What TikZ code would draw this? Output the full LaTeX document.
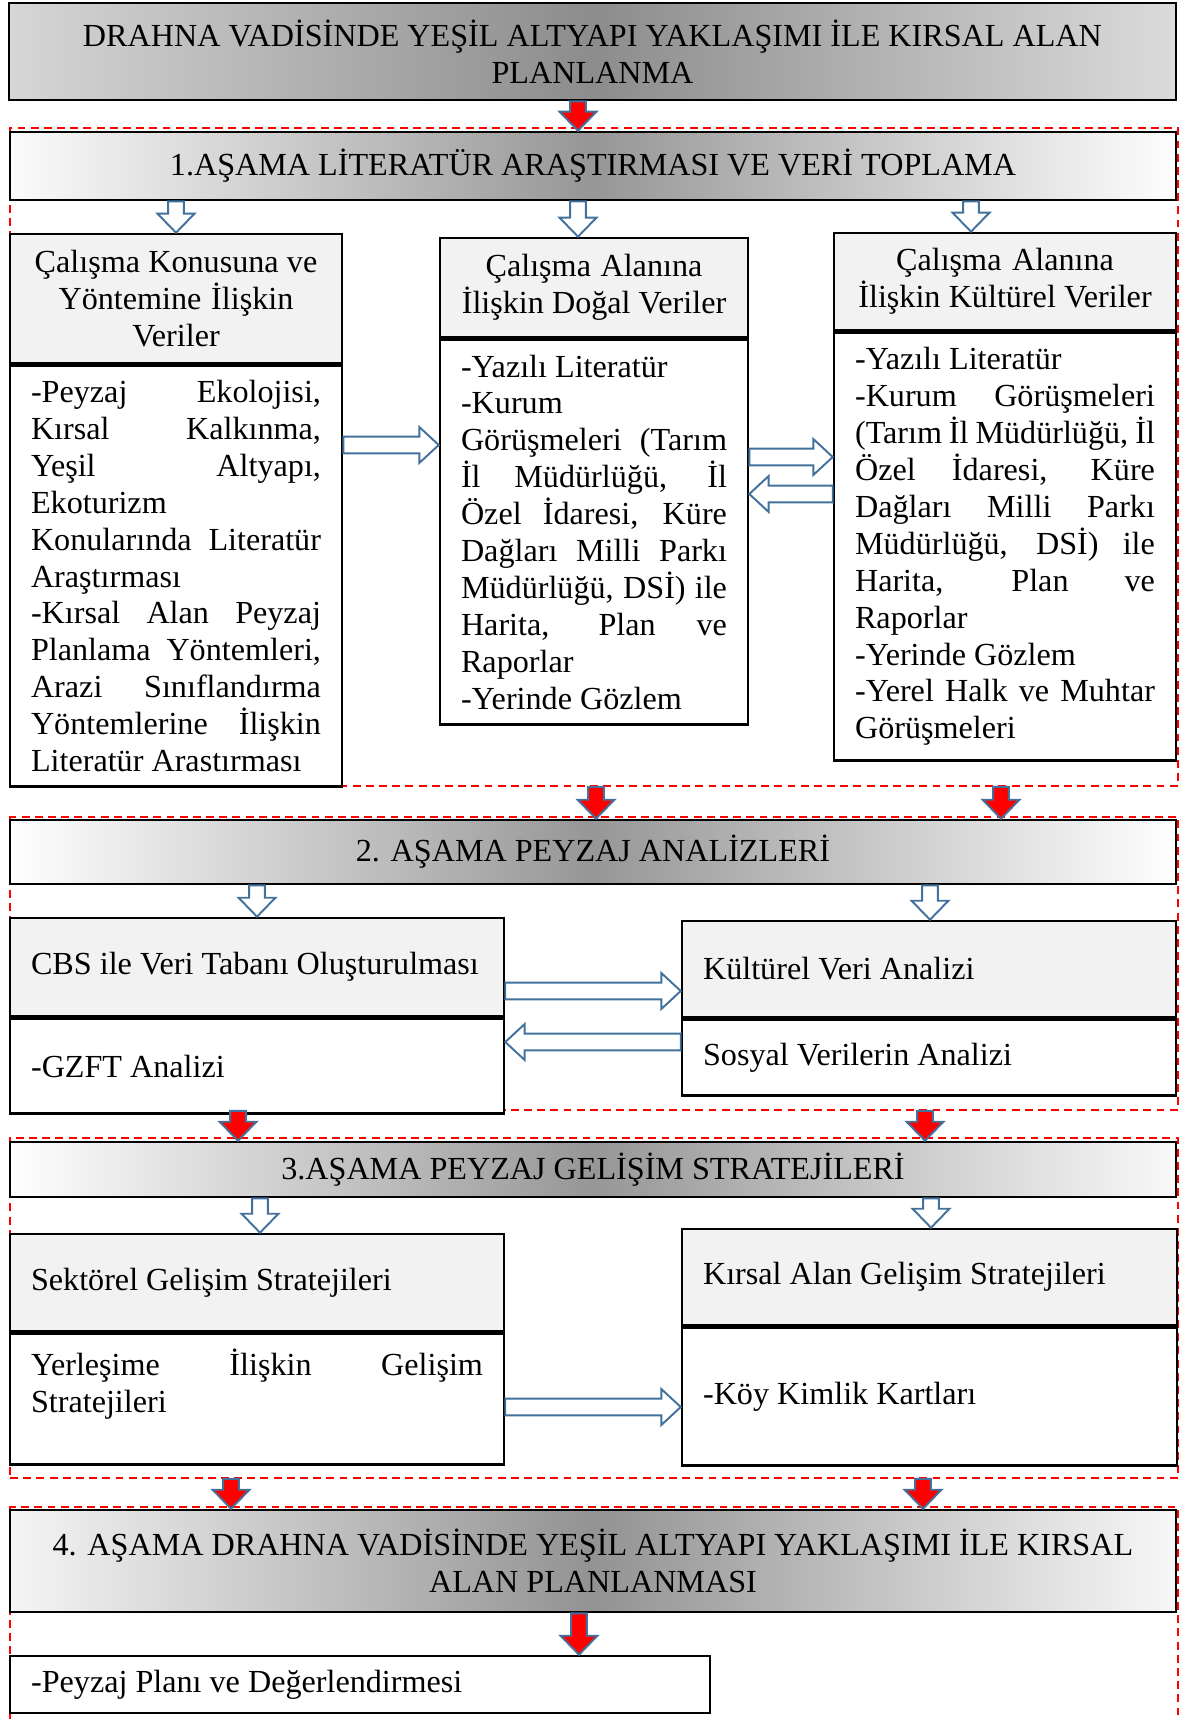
\documentclass[tikz,border=0pt]{standalone}
\usepackage{fontspec}
\setmainfont{Liberation Serif}
\usetikzlibrary{positioning,calc}
\definecolor{arrowblue}{RGB}{65,113,156}
\newcommand{\jl}[1]{\makebox[\hsize][s]{#1}}
\newcommand{\fatdown}[4]{\draw[#1] let \p1=(#3.south), \p2=(#4.north), \p3=(#2,0) in
  ({\x3-4.5pt},\y1) -- ({\x3+4.5pt},\y1) -- ({\x3+4.5pt},{\y2+10.8pt}) -- ({\x3+10.5pt},{\y2+10.8pt})
  -- (\x3,\y2) -- ({\x3-10.5pt},{\y2+10.8pt}) -- ({\x3-4.5pt},{\y2+10.8pt}) -- cycle;}
\newcommand{\fatright}[4]{\draw[#1] let \p1=(#3.east), \p2=(#4.west), \p3=(0,#2) in
  (\x1,{\y3+4.8pt}) -- ({\x2-11pt},{\y3+4.8pt}) -- ({\x2-11pt},{\y3+10.2pt}) -- (\x2,\y3)
  -- ({\x2-11pt},{\y3-10.2pt}) -- ({\x2-11pt},{\y3-4.8pt}) -- (\x1,{\y3-4.8pt}) -- cycle;}
\newcommand{\fatleft}[4]{\draw[#1] let \p1=(#3.west), \p2=(#4.east), \p3=(0,#2) in
  (\x1,{\y3+4.8pt}) -- ({\x2+11pt},{\y3+4.8pt}) -- ({\x2+11pt},{\y3+10.2pt}) -- (\x2,\y3)
  -- ({\x2+11pt},{\y3-10.2pt}) -- ({\x2+11pt},{\y3-4.8pt}) -- (\x1,{\y3-4.8pt}) -- cycle;}

\begin{document}
\begin{tikzpicture}[x=0.02cm,y=-0.02cm,
  plainbox/.style={draw=black,line width=1.5pt,inner xsep=0.42cm,inner ysep=0pt,font=\fontsize{18.3}{21}\selectfont,
    execute at begin node={\spaceskip=0pt\xspaceskip=0pt}},
  stagehdr/.style={plainbox,align=center,minimum width=23.32cm,font=\fontsize{18.3}{21}\selectfont},
  headbox/.style={plainbox,fill=gray!10},
  bodybox/.style={plainbox,fill=white,align=left},
  stageframe/.style={draw=red,line width=1.1pt,dash pattern=on 4.5pt off 3pt,minimum width=23.36cm,inner sep=0pt},
  redarrow/.style={fill=red,draw=arrowblue,line width=1.1pt},
  hollowarrow/.style={fill=white,draw=arrowblue,line width=1.1pt}]
\useasboundingbox (0,0) rectangle (1179,1719);

\node[stageframe,minimum height=13.16cm] (fr1) at (594,457) {};
\node[stageframe,minimum height=5.86cm] (fr2) at (594,963.5) {};
\node[stageframe,minimum height=6.80cm] (fr3) at (594,1308) {};
\node[stageframe,minimum height=5.06cm] (fr4) at (594,1633.5) {};

\node[stagehdr,minimum width=23.34cm,minimum height=1.94cm,left color=gray!32,right color=gray!28,middle color=gray!90] (title) at (592.5,51.5) {DRAHNA VADİSİNDE YEŞİL ALTYAPI YAKLAŞIMI İLE KIRSAL ALAN\\PLANLANMA};
\node[stagehdr,minimum height=1.36cm,left color=gray!3,right color=gray!1,middle color=gray!82] (st1) at (593,166) {1.AŞAMA LİTERATÜR ARAŞTIRMASI VE VERİ TOPLAMA};

\node[headbox,minimum width=6.64cm,minimum height=2.58cm,text width=5.8cm,align=center] (konuH) at (176,298.5) {Çalışma Konusuna ve\\Yöntemine İlişkin\\Veriler};
\node[bodybox,minimum width=6.64cm,minimum height=8.42cm,text width=5.8cm,below=0pt of konuH] (konuB) {\jl{-Peyzaj Ekolojisi,}\\\jl{Kırsal Kalkınma,}\\\jl{Yeşil Altyapı,}\\Ekoturizm\\\jl{Konularında Literatür}\\Araştırması\\\jl{-Kırsal Alan Peyzaj}\\\jl{Planlama Yöntemleri,}\\\jl{Arazi Sınıflandırma}\\\jl{Yöntemlerine İlişkin}\\Literatür Arastırması};

\node[headbox,minimum width=6.16cm,minimum height=1.98cm,text width=5.32cm,align=center] (dogalH) at (594,287.5) {Çalışma Alanına\\İlişkin Doğal Veriler};
\node[bodybox,minimum width=6.16cm,minimum height=7.70cm,text width=5.32cm,below=0pt of dogalH] (dogalB) {-Yazılı Literatür\\-Kurum\\\jl{Görüşmeleri (Tarım}\\\jl{İl Müdürlüğü, İl}\\\jl{Özel İdaresi, Küre}\\\jl{Dağları Milli Parkı}\\\jl{Müdürlüğü, DSİ) ile}\\\jl{Harita, Plan ve}\\Raporlar\\-Yerinde Gözlem};

\node[headbox,minimum width=6.84cm,minimum height=1.94cm,text width=6.0cm,align=center] (kulturH) at (1005,281.5) {Çalışma Alanına\\İlişkin Kültürel Veriler};
\node[bodybox,minimum width=6.84cm,minimum height=8.56cm,text width=6.0cm,below=0pt of kulturH] (kulturB) {-Yazılı Literatür\\\jl{-Kurum Görüşmeleri}\\\jl{(Tarım İl Müdürlüğü, İl}\\\jl{Özel İdaresi, Küre}\\\jl{Dağları Milli Parkı}\\\jl{Müdürlüğü, DSİ) ile}\\\jl{Harita, Plan ve}\\Raporlar\\-Yerinde Gözlem\\\jl{-Yerel Halk ve Muhtar}\\Görüşmeleri};

\node[stagehdr,minimum height=1.28cm,left color=white,right color=white,middle color=gray!82] (st2) at (593,852) {2. AŞAMA PEYZAJ ANALİZLERİ};

\node[headbox,minimum width=9.88cm,minimum height=1.96cm,text width=9.04cm,align=left] (cbsH) at (257,967) {CBS ile Veri Tabanı Oluşturulması};
\node[bodybox,minimum width=9.88cm,minimum height=1.90cm,text width=9.04cm,below=0pt of cbsH] (cbsB) {-GZFT Analizi};
\node[headbox,minimum width=9.88cm,minimum height=1.92cm,text width=9.04cm,align=left] (kvaH) at (929,969) {Kültürel Veri Analizi};
\node[bodybox,minimum width=9.88cm,minimum height=1.52cm,text width=9.04cm,below=0pt of kvaH] (kvaB) {Sosyal Verilerin Analizi};

\node[stagehdr,minimum height=1.10cm,left color=white,right color=gray!5,middle color=gray!82] (st3) at (593,1169.5) {3.AŞAMA PEYZAJ GELİŞİM STRATEJİLERİ};

\node[headbox,minimum width=9.88cm,minimum height=1.94cm,text width=9.04cm,align=left] (sekH) at (257,1282.5) {Sektörel Gelişim Stratejileri};
\node[bodybox,minimum width=9.88cm,minimum height=2.62cm,text width=9.04cm,below=0pt of sekH] (sekB) {\jl{Yerleşime İlişkin Gelişim}\\Stratejileri\\\mbox{}};
\node[headbox,minimum width=9.9cm,minimum height=1.92cm,text width=9.06cm,align=left] (kirH) at (929.5,1277) {Kırsal Alan Gelişim Stratejileri};
\node[bodybox,minimum width=9.9cm,minimum height=2.76cm,text width=9.06cm,below=0pt of kirH] (kirB) {-Köy Kimlik Kartları};

\node[stagehdr,minimum height=2.04cm,left color=gray!8,right color=gray!6,middle color=gray!85] (st4) at (593,1561) {4. AŞAMA DRAHNA VADİSİNDE YEŞİL ALTYAPI YAKLAŞIMI İLE KIRSAL\\ALAN PLANLANMASI};
\node[bodybox,minimum width=14.0cm,minimum height=1.14cm,text width=13.16cm] (plan) at (360,1684.5) {-Peyzaj Planı ve Değerlendirmesi};

\fatdown{redarrow}{578}{title}{st1}
\fatdown{hollowarrow}{176}{st1}{konuH}
\fatdown{hollowarrow}{578}{st1}{dogalH}
\fatdown{hollowarrow}{971}{st1}{kulturH}
\fatright{hollowarrow}{445}{konuB}{dogalB}
\fatright{hollowarrow}{457}{dogalB}{kulturB}
\fatleft{hollowarrow}{494}{kulturB}{dogalB}
\fatdown{redarrow}{596}{fr1}{st2}
\fatdown{redarrow}{1001}{fr1}{st2}
\fatdown{hollowarrow}{257}{st2}{cbsH}
\fatdown{hollowarrow}{930}{st2}{kvaH}
\fatright{hollowarrow}{991}{cbsH}{kvaH}
\fatleft{hollowarrow}{1042}{kvaB}{cbsB}
\fatdown{redarrow}{238}{fr2}{st3}
\fatdown{redarrow}{925}{fr2}{st3}
\fatdown{hollowarrow}{260}{st3}{sekH}
\fatdown{hollowarrow}{931}{st3}{kirH}
\fatright{hollowarrow}{1407}{sekB}{kirB}
\fatdown{redarrow}{231}{fr3}{st4}
\fatdown{redarrow}{923}{fr3}{st4}
\fatdown{redarrow}{579}{st4}{plan}
\end{tikzpicture}
\end{document}
